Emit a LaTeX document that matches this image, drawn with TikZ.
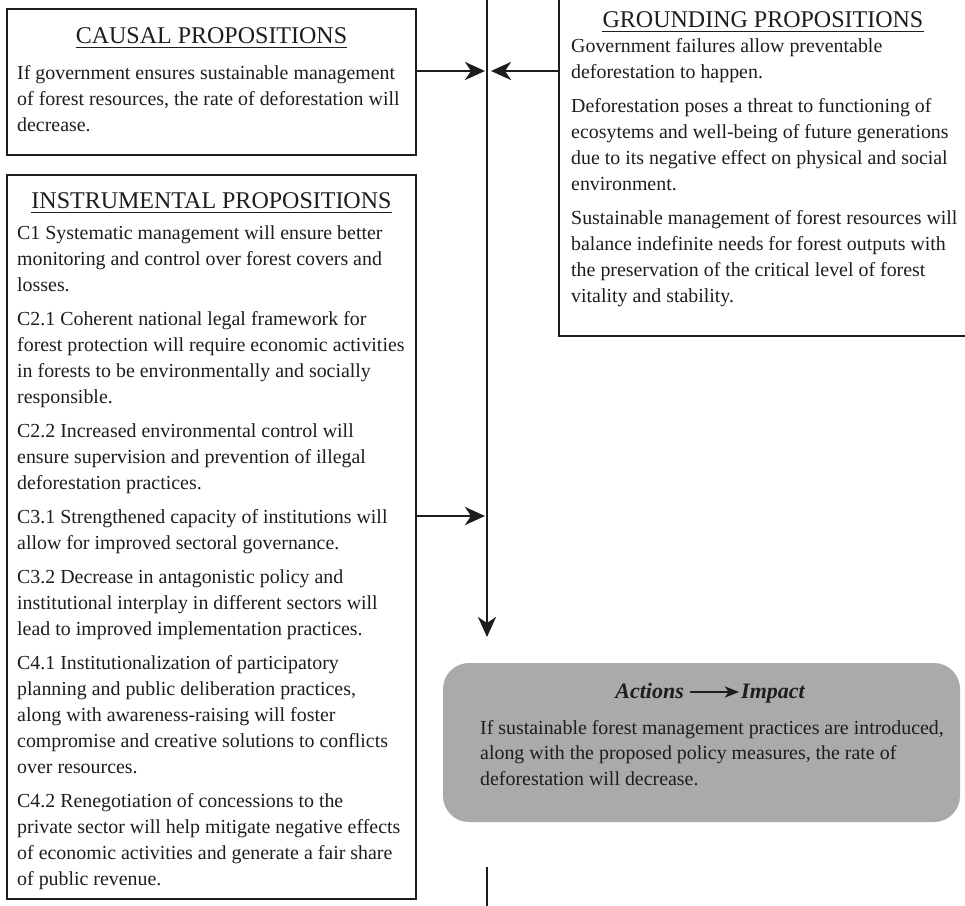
\documentclass[tikz,border=0pt]{standalone}
\usepackage{fontspec}
\setmainfont{Liberation Serif}
\usetikzlibrary{arrows.meta}
\definecolor{ink}{RGB}{30,28,29}
\definecolor{actgray}{RGB}{170,170,170}
\newcommand\bodyfnt{\fontsize{19.9}{26}\selectfont}
\newcommand\actbodyfnt{\fontsize{19.9}{25.5}\selectfont}
\newcommand\ttlfnt{\fontsize{24}{28}\selectfont}
\newcommand\actttlfnt{\fontsize{22}{26}\selectfont\bfseries\itshape}
\tikzset{
  frame/.style={draw=ink, line width=2.8pt, rectangle, inner sep=0pt},
  actbox/.style={fill=actgray, draw=none, rounded corners=26pt, rectangle, inner sep=0pt},
  bodytext/.style={inner sep=0pt, align=left, text=ink, font=\bodyfnt, anchor=north west},
  ttl/.style={inner sep=0pt, text=ink, font=\ttlfnt, anchor=base},
  uline/.style={draw=ink, line width=1.3pt},
  arr/.style={draw=ink, line width=2.8pt, -{Stealth[length=20pt,width=18pt,inset=6pt]}},
  spine/.style={draw=ink, line width=2.8pt},
}
\begin{document}
\begin{tikzpicture}[x=1pt,y=1pt]
\useasboundingbox (0,0) rectangle (965,-905);
\clip (0,0) rectangle (965,-905);

% frames
\node[frame, minimum width=409pt, minimum height=146pt] (causal) at (211.5,-82) {};
\node[frame, minimum width=409pt, minimum height=724pt] (instr) at (211.5,-537) {};
\node[frame, minimum width=420pt, minimum height=350pt] (ground) at (769,-161) {};
\node[actbox, minimum width=517pt, minimum height=159pt] (actions) at (701.5,-742.5) {};

% causal
\node[ttl] (ctT) at (211.5,-43) {CAUSAL PROPOSITIONS};
\draw[uline] ([yshift=-4.5pt]ctT.base west) -- ([yshift=-4.5pt]ctT.base east);
\node[bodytext] (ctB) at (17,-60.8) {\strut If government ensures sustainable management\\
of forest resources, the rate of deforestation will\\
decrease.};

% grounding
\node[ttl] (grT) at (763,-27) {GROUNDING PROPOSITIONS};
\draw[uline] ([yshift=-4.5pt]grT.base west) -- ([yshift=-4.5pt]grT.base east);
\node[bodytext] (grB) at (571,-33.8) {\strut Government failures allow preventable\\
deforestation to happen.\\[8pt]
Deforestation poses a threat to functioning of\\
ecosytems and well-being of future generations\\
due to its negative effect on physical and social\\
environment.\\[8pt]
Sustainable management of forest resources will\\
balance indefinite needs for forest outputs with\\
the preservation of the critical level of forest\\
vitality and stability.};

% instrumental
\node[ttl] (inT) at (211.5,-208) {INSTRUMENTAL PROPOSITIONS};
\draw[uline] ([yshift=-4.5pt]inT.base west) -- ([yshift=-4.5pt]inT.base east);
\node[bodytext] (inB) at (17,-220.8) {\strut C1 Systematic management will ensure better\\
monitoring and control over forest covers and\\
losses.\\[8pt]
C2.1 Coherent national legal framework for\\
forest protection will require economic activities\\
in forests to be environmentally and socially\\
responsible.\\[8pt]
C2.2 Increased environmental control will\\
ensure supervision and prevention of illegal\\
deforestation practices.\\[8pt]
C3.1 Strengthened capacity of institutions will\\
allow for improved sectoral governance.\\[8pt]
C3.2 Decrease in antagonistic policy and\\
institutional interplay in different sectors will\\
lead to improved implementation practices.\\[8pt]
C4.1 Institutionalization of participatory\\
planning and public deliberation practices,\\
along with awareness-raising will foster\\
compromise and creative solutions to conflicts\\
over resources.\\[8pt]
C4.2 Renegotiation of concessions to the\\
private sector will help mitigate negative effects\\
of economic activities and generate a fair share\\
of public revenue.};

% actions
\node[inner sep=0pt, text=ink, font=\actttlfnt, anchor=base east] (actA) at (684,-698) {Actions};
\node[inner sep=0pt, text=ink, font=\actttlfnt, anchor=base west] (actI) at (741,-698) {Impact};
\draw[draw=ink, line width=2.2pt, -{Stealth[length=14pt,width=11pt,inset=3.5pt]}]
  ([xshift=6pt,yshift=6pt]actA.base east) -- ([xshift=-2pt,yshift=6pt]actI.base west);
\node[bodytext, font=\actbodyfnt] (acB) at (480,-716.15) {\strut If sustainable forest management practices are introduced,\\
along with the proposed policy measures, the rate of\\
deforestation will decrease.};

% spine and connectors
\coordinate (spT) at (487,6);
\coordinate (spB) at (487,-637);
\coordinate (tailT) at (487,-867);
\coordinate (tailB) at (487,-912);
\coordinate (cIn) at (485,-71);
\coordinate (gIn) at (491,-71);
\coordinate (iIn) at (485,-516);
\draw[arr] (spT) -- (spB);
\draw[spine] (tailT) -- (tailB);
\draw[arr] (causal.east |- cIn) -- (cIn);
\draw[arr] (ground.west |- gIn) -- (gIn);
\draw[arr] (instr.east |- iIn) -- (iIn);
\end{tikzpicture}
\end{document}
